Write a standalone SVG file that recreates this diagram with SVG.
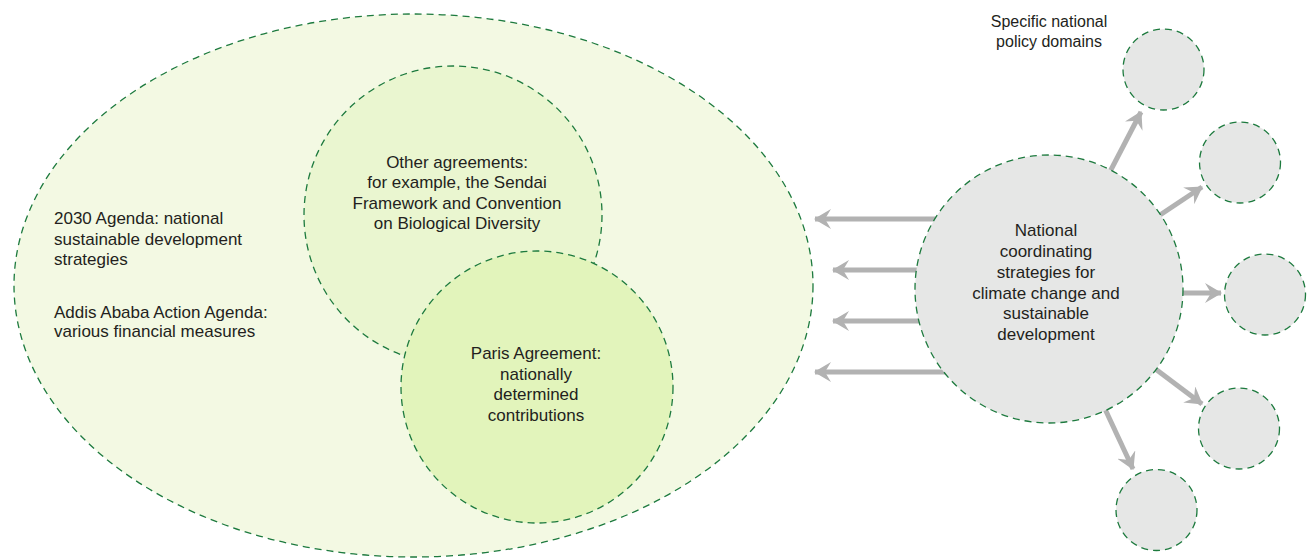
<svg xmlns="http://www.w3.org/2000/svg" width="1308" height="558" viewBox="0 0 1308 558">
<defs>
<style>
.dash{stroke:#1d7a3e;stroke-width:1.3;stroke-dasharray:7 5;}
.t{font-family:"Liberation Sans",Arial,sans-serif;font-size:17px;fill:#231f20;}
.c{text-anchor:middle;}
.arr{stroke:#b2b2b2;stroke-width:5;fill:none;marker-end:url(#ah);}
</style>
<marker id="ah" viewBox="0 0 17 20" refX="16" refY="10" markerWidth="17" markerHeight="20" markerUnits="userSpaceOnUse" orient="auto">
<path d="M0,0 L17,10 L0,20 L6,10 Z" fill="#b2b2b2"/>
</marker>
</defs>
<rect width="1308" height="558" fill="#ffffff"/>

<g id="connectors">
<line class="arr" x1="960" y1="219" x2="815" y2="219"/>
<line class="arr" x1="960" y1="270" x2="833" y2="270"/>
<line class="arr" x1="960" y1="321" x2="833" y2="321"/>
<line class="arr" x1="960" y1="372" x2="815" y2="372"/>
<line class="arr" x1="1049" y1="289" x2="1141" y2="112"/>
<line class="arr" x1="1049" y1="289" x2="1202" y2="187"/>
<line class="arr" x1="1049" y1="293" x2="1221" y2="293"/>
<line class="arr" x1="1049" y1="289" x2="1202" y2="404"/>
<line class="arr" x1="1049" y1="289" x2="1133" y2="469"/>
</g>

<g id="agenda2030">
<ellipse class="dash" cx="413.5" cy="285.5" rx="399.5" ry="271.5" fill="#f3f9e3"/>
<text class="t" x="54" y="224">2030 Agenda: national</text>
<text class="t" x="54" y="244.5">sustainable development</text>
<text class="t" x="54" y="265">strategies</text>
<text class="t" x="54" y="317.5">Addis Ababa Action Agenda:</text>
<text class="t" x="54" y="337">various financial measures</text>
</g>

<g id="other-agreements">
<circle class="dash" cx="453" cy="215" r="149" fill="#eaf6d0"/>
<text class="t c" x="457" y="167.5">Other agreements:</text>
<text class="t c" x="457" y="188">for example, the Sendai</text>
<text class="t c" x="457" y="208.5">Framework and Convention</text>
<text class="t c" x="457" y="229">on Biological Diversity</text>
</g>

<g id="paris">
<circle class="dash" cx="537" cy="387" r="136" fill="#e2f4bb"/>
<text class="t c" x="536" y="359">Paris Agreement:</text>
<text class="t c" x="536" y="379.5">nationally</text>
<text class="t c" x="536" y="400">determined</text>
<text class="t c" x="536" y="420.5">contributions</text>
</g>

<g id="national-strategies">
<circle class="dash" cx="1049" cy="289" r="134" fill="#e6e7e6"/>
<text class="t c" x="1046" y="236">National</text>
<text class="t c" x="1046" y="256.5">coordinating</text>
<text class="t c" x="1046" y="277.5">strategies for</text>
<text class="t c" x="1046" y="298.5">climate change and</text>
<text class="t c" x="1046" y="319">sustainable</text>
<text class="t c" x="1046" y="339.5">development</text>
</g>

<g id="domains-label">
<text class="t c" x="1049" y="26.5" style="font-size:16px">Specific national</text>
<text class="t c" x="1049" y="46.5" style="font-size:16px">policy domains</text>
</g>

<g id="domain-1"><circle class="dash" cx="1163.5" cy="69.5" r="40.5" fill="#e6e7e6"/></g>
<g id="domain-2"><circle class="dash" cx="1240" cy="162.5" r="40.5" fill="#e6e7e6"/></g>
<g id="domain-3"><circle class="dash" cx="1265" cy="294.5" r="40.5" fill="#e6e7e6"/></g>
<g id="domain-4"><circle class="dash" cx="1239" cy="428.5" r="40.5" fill="#e6e7e6"/></g>
<g id="domain-5"><circle class="dash" cx="1156.5" cy="510" r="40.5" fill="#e6e7e6"/></g>
</svg>
